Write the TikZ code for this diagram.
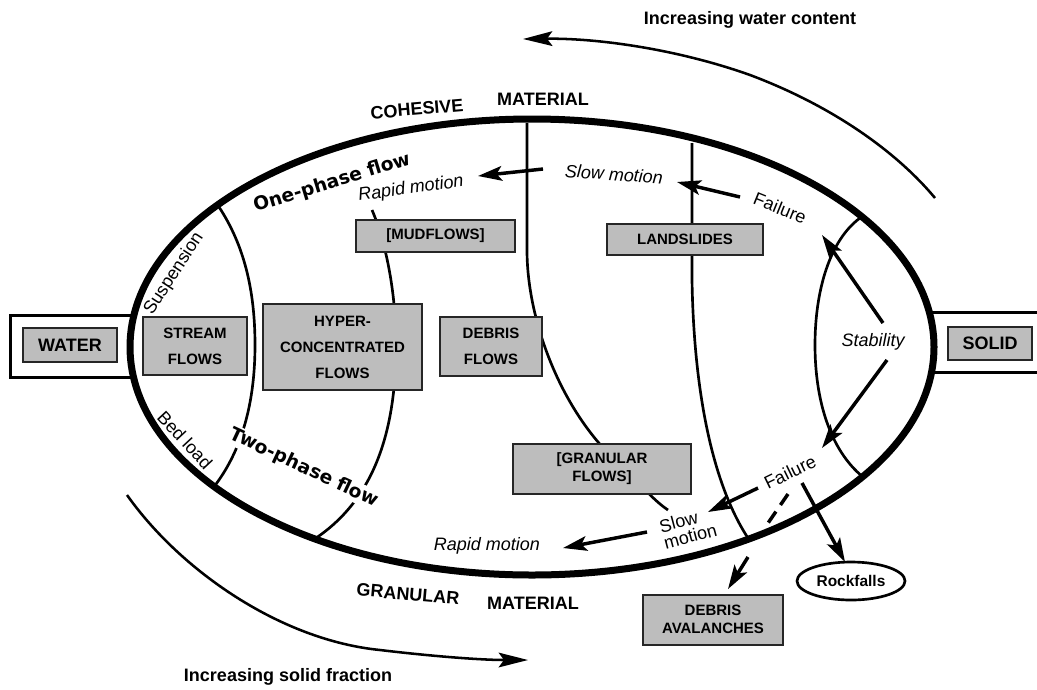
\documentclass[tikz,border=0pt]{standalone}
\usepackage{fontspec}
\setmainfont{Liberation Sans}
\newfontfamily\phasefont{DejaVu Sans}
\usetikzlibrary{arrows.meta,shapes.geometric}
\begin{document}
\begin{tikzpicture}[x=0.75pt,y=-0.75pt,
  rim/.style={line width=5.25pt},
  divider/.style={line width=2pt},
  frame/.style={line width=2.25pt, fill=white},
  flowbox/.style={draw=black!85, line width=1.5pt, fill=black!26, inner sep=0pt,
    align=center, font=\fontsize{11.25}{19.5}\selectfont\bfseries},
  push/.style={line width=2.6pt, -{Stealth[length=18pt,width=11pt,inset=4pt]}},
  trend/.style={line width=1.9pt, -{Stealth[length=22pt,width=11pt,inset=4pt]}},
  caption/.style={font=\fontsize{13.5}{16}\selectfont\bfseries},
  motion/.style={font=\fontsize{13.5}{16}\selectfont\itshape, inner sep=1pt},
  zone/.style={font=\fontsize{13.5}{16}\selectfont, inner sep=1pt},
  phase/.style={font=\phasefont\fontsize{14}{16}\selectfont\bfseries, fill=white, inner sep=1pt},
]
\useasboundingbox (0,0) rectangle (1037,689);

% end frames for the two pure components
\draw[frame] (10,315) rectangle (200,377);
\draw[frame] (900,312) rectangle (1050,372);

% the flow-type domain
\draw[rim, fill=white] (532,347) ellipse [x radius=301.5pt, y radius=171pt];

% internal boundaries
\draw[divider] (219,207) .. controls (244,245) and (255,290) .. (255,345)
  .. controls (255,400) and (243,450) .. (213,488);
\draw[divider] (372,210) .. controls (385,240) and (396,290) .. (396,345)
  .. controls (396,430) and (375,500) .. (313,540);
\draw[divider] (527,123) -- (527,250) .. controls (527,320) and (560,405) .. (610,455)
  .. controls (635,477) and (650,498) .. (668,510);
\draw[divider] (692,143) -- (692,280) .. controls (694,400) and (715,490) .. (750,541);
\draw[divider] (860,218) .. controls (830,240) and (815,290) .. (815,345)
  .. controls (815,400) and (830,450) .. (863,477);

% trend arrows around the domain
\draw[trend] (935,198) .. controls (895,150) and (830,105) .. (750,75)
  .. controls (680,50) and (600,38) .. (523,39);
\draw[trend] (127,495) .. controls (180,570) and (280,640) .. (380,650)
  .. controls (430,656) and (480,660) .. (528,660);

% flow-type boxes
\node[flowbox, minimum width=70.5pt, minimum height=25.5pt,
  font=\fontsize{13.5}{16}\selectfont\bfseries] (water) at (70,345) {WATER};
\node[flowbox, minimum width=63pt, minimum height=24.75pt,
  font=\fontsize{13.5}{16}\selectfont\bfseries] (solid) at (990,343.5) {SOLID};
\node[flowbox, minimum width=78pt, minimum height=43.5pt] (stream) at (195,346) {STREAM\\FLOWS};
\node[flowbox, minimum width=119.25pt, minimum height=64.5pt] (hyper) at (342.5,347) {HYPER-\\CONCENTRATED\\FLOWS};
\node[flowbox, minimum width=76.5pt, minimum height=44.25pt] (debris) at (491,346.5) {DEBRIS\\FLOWS};
\node[flowbox, minimum width=119.25pt, minimum height=24pt] (mud) at (435.5,236) {[MUDFLOWS]};
\node[flowbox, minimum width=117pt, minimum height=23.25pt] (slides) at (685,239.5) {LANDSLIDES};
\node[flowbox, minimum width=133.5pt, minimum height=37.5pt,
  font=\fontsize{11.25}{13.5}\selectfont\bfseries] (granular) at (602,469) {[GRANULAR\\FLOWS]};
\node[flowbox, minimum width=105pt, minimum height=37.5pt,
  font=\fontsize{11.25}{13.5}\selectfont\bfseries] (aval) at (713,619.5) {DEBRIS\\AVALANCHES};
\node[draw, ellipse, line width=2pt, fill=white, inner sep=0pt, minimum width=81pt,
  minimum height=28.5pt, font=\fontsize{11.6}{14}\selectfont\bfseries] (rock) at (851,581) {Rockfalls};

% labels
\node[caption] (wetter) at (750,20) {Increasing water content};
\node[caption] (drier) at (288,677) {Increasing solid fraction};
\node[caption, rotate=5] (coh) at (417,109) {COHESIVE};
\node[caption] (cohmat) at (543,99) {MATERIAL};
\node[caption, rotate=-5] (gran) at (408,594) {GRANULAR};
\node[caption] (granmat) at (533,603) {MATERIAL};
\node[phase, rotate=17] (one) at (332,183) {One-phase flow};
\node[phase, rotate=-25] (two) at (304,468) {Two-phase flow};
\node[zone, rotate=57] (susp) at (174,274) {Suspension};
\node[zone, rotate=-47] (bed) at (185,440) {Bed load};
\node[motion, rotate=8] (rapidtop) at (411,189) {Rapid motion};
\node[motion, rotate=-4] (slowtop) at (614,174) {Slow motion};
\node[zone, rotate=-22] (failtop) at (780,208) {Failure};
\node[motion] (stab) at (873,342) {Stability};
\node[zone, rotate=26] (failbot) at (790,472) {Failure};
\node[zone, rotate=15, align=left, font=\fontsize{13.5}{12.75}\selectfont] (slowbot) at (688,528) {Slow\\motion};
\node[motion] (rapidbot) at (487,546) {Rapid motion};

% arrow ends
\coordinate (a1s) at (543,169); \coordinate (a1e) at (478,176);
\coordinate (a2s) at (740,197); \coordinate (a2e) at (677,182);
\coordinate (a3s) at (883,323); \coordinate (a3e) at (822,235);
\coordinate (a4s) at (887,360); \coordinate (a4e) at (822,448);
\coordinate (a5s) at (758,488); \coordinate (a5e) at (708,512);
\coordinate (a6s) at (647,532); \coordinate (a6e) at (563,548);
\coordinate (a7s) at (802,483); \coordinate (a7e) at (845,562);
\coordinate (a8s) at (788,494); \coordinate (a8m) at (766,526);
\coordinate (a8t) at (748,557); \coordinate (a8e) at (728,589);

\draw[push] (a1s) -- (a1e);
\draw[push] (a2s) -- (a2e);
\draw[push] (a3s) -- (a3e);
\draw[push] (a4s) -- (a4e);
\draw[push] (a5s) -- (a5e);
\draw[push] (a6s) -- (a6e);
\draw[push] (a7s) -- (a7e);
\draw[line width=2.6pt, dash pattern=on 10pt off 6pt] (a8s) -- (a8m);
\draw[push] (a8t) -- (a8e);
\end{tikzpicture}
\end{document}
